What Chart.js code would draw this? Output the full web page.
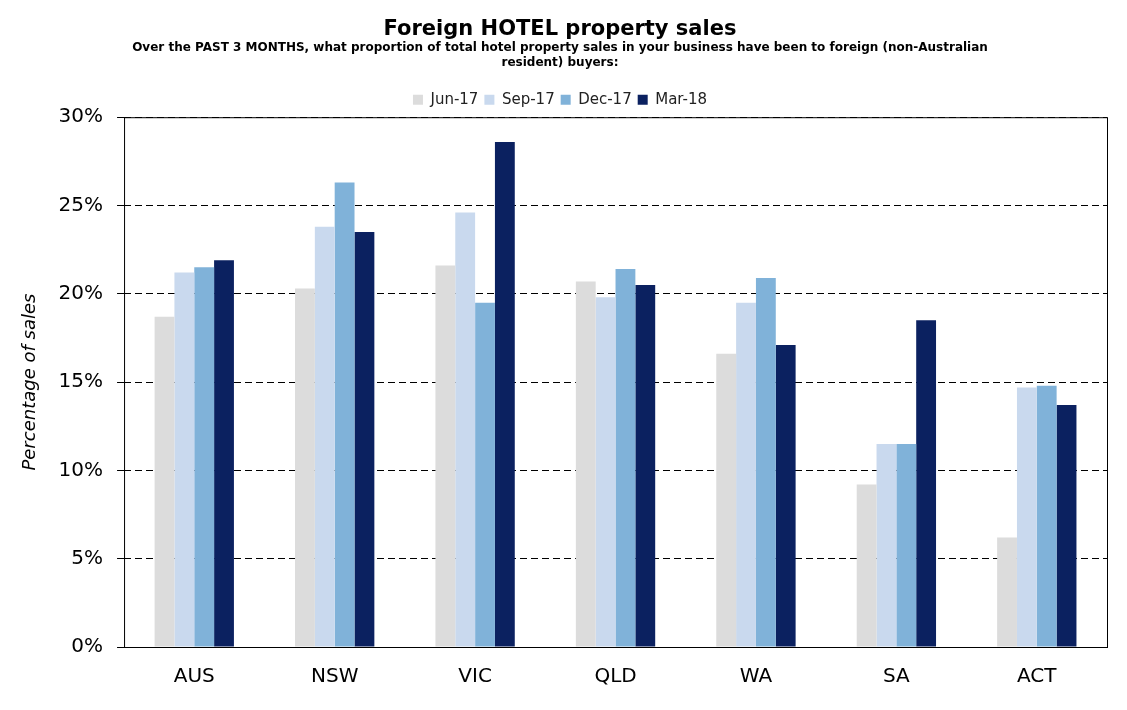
<!DOCTYPE html>
<html>
<head>
<meta charset="utf-8">
<script src="https://cdn.jsdelivr.net/npm/chart.js@4/dist/chart.umd.min.js"></script>
<style>
  html, body { margin: 0; padding: 0; background: #fff; }
  #wrap { width: 1127px; height: 710px; }
</style>
</head>
<body>
<div id="wrap"><canvas id="myChart" width="1127" height="710"></canvas></div>
<script>
// data
const states = ["AUS", "NSW", "VIC", "QLD", "WA", "SA", "ACT"]
const jun17 = [18.7, 20.3, 21.6, 20.7, 16.6, 9.2, 6.2]
const sep17 = [21.2, 23.8, 24.6, 19.8, 19.5, 11.5, 14.7]
const dec17 = [21.5, 26.3, 19.5, 21.4, 20.9, 11.5, 14.8]
const mar18 = [21.9, 23.5, 28.6, 20.5, 17.1, 18.5, 13.7]

const font = "'DejaVu Sans', Verdana, sans-serif"

// full black box round the plot
const frame = {
    id: 'frame',
    afterDraw: chart => {
        const { ctx, chartArea: a } = chart
        ctx.save()
        ctx.strokeStyle = '#000'
        ctx.lineWidth = 1
        ctx.setLineDash([])
        ctx.strokeRect(a.left + 0.5, a.top + 0.5, a.right - a.left, a.bottom - a.top)
        ctx.restore()
    }
}

const makeSet = (label, data, color) => ({
    label: label,
    data: data,
    backgroundColor: color,
    borderWidth: 0
})

const config = {
    type: 'bar',
    data: {
        labels: states,
        datasets: [
            makeSet('Jun-17', jun17, '#dcdcdc'),
            makeSet('Sep-17', sep17, '#c9d9ee'),
            makeSet('Dec-17', dec17, '#80b2d9'),
            makeSet('Mar-18', mar18, '#0b2160')
        ]
    },
    options: {
        responsive: false,
        animation: false,
        layout: { padding: { left: 13, right: 20, top: 17, bottom: 11 } },
        datasets: { bar: { barPercentage: 1, categoryPercentage: 0.565 } },
        plugins: {
            title: {
                display: true,
                text: 'Foreign HOTEL property sales',
                color: '#000',
                font: { family: font, size: 21, weight: 'bold' },
                padding: { top: 0, bottom: -2 }
            },
            subtitle: {
                display: true,
                text: ['Over the PAST 3 MONTHS, what proportion of total hotel property sales in your business have been to foreign (non-Australian',
                       'resident) buyers:'],
                color: '#000',
                font: { family: font, size: 12, weight: 'bold', lineHeight: 1.25 },
                padding: { top: 0, bottom: 16 }
            },
            legend: {
                position: 'top',
                labels: {
                    boxWidth: 10,
                    boxHeight: 10,
                    padding: 6,
                    color: '#222',
                    font: { family: font, size: 15 }
                }
            },
            tooltip: { enabled: false }
        },
        scales: {
            x: {
                grid: { display: false },
                border: { display: false },
                ticks: { color: '#000', font: { family: font, size: 20 }, padding: 10 }
            },
            y: {
                min: 0,
                max: 30,
                grid: { color: '#000', lineWidth: 1, drawTicks: true, tickLength: 7, tickColor: '#000' },
                border: { display: false, dash: [7, 4] },
                ticks: {
                    stepSize: 5,
                    color: '#000',
                    padding: 14,
                    font: { family: font, size: 20 },
                    callback: v => v + '%'
                },
                title: {
                    display: true,
                    text: 'Percentage of sales',
                    color: '#000',
                    padding: { top: 7, bottom: 3 },
                    font: { family: font, size: 18, style: 'italic' }
                }
            }
        }
    },
    plugins: [frame]
}

let myChart = new Chart(document.getElementById('myChart'), config)
</script>
</body>
</html>
